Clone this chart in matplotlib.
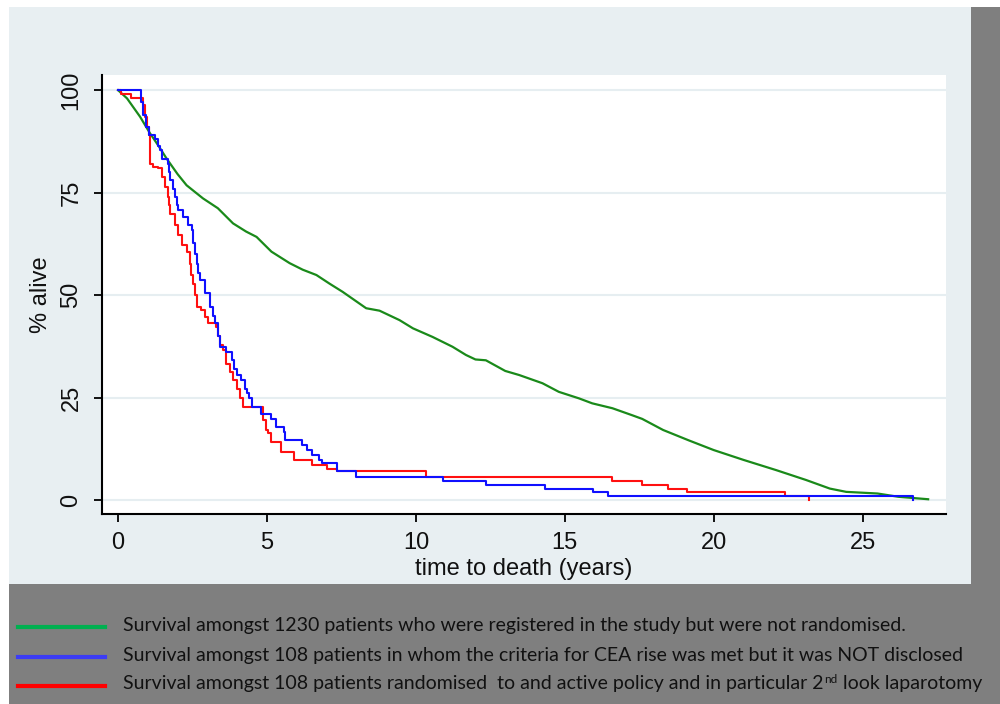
import matplotlib
matplotlib.use('Agg')
import matplotlib.pyplot as plt
from matplotlib.patches import Rectangle
from matplotlib.lines import Line2D

plt.rcParams['font.family'] = ['Liberation Sans', 'DejaVu Sans']

# Kaplan-Meier curves (time in years, % alive)
green_t = [0, 0.3, 0.74, 1.07, 1.35, 1.63, 2.0, 2.3, 2.85, 3.35, 3.86, 4.3, 4.65, 5.15,
           5.76, 6.2, 6.66, 7.1, 7.54, 8.33, 8.78, 9.45, 9.9, 10.56, 11.23, 11.68, 12.0,
           12.35, 13.0, 13.47, 14.25, 14.8, 15.48, 15.92, 16.6, 17.26, 17.6, 18.3, 19.15,
           20.0, 21.0, 22.1, 23.1, 23.9, 24.45, 25.5, 26.2, 27.2]
green_s = [100, 98, 93.5, 89.5, 86.5, 83.3, 79.5, 76.8, 73.6, 71.2, 67.5, 65.5, 64.2, 60.6,
           57.8, 56.2, 54.9, 52.8, 50.8, 46.8, 46.2, 43.9, 41.9, 39.8, 37.4, 35.4, 34.3,
           34.1, 31.5, 30.5, 28.5, 26.4, 24.8, 23.6, 22.4, 20.7, 19.8, 17.1, 14.6,
           12.2, 9.8, 7.3, 4.9, 2.8, 2.0, 1.6, 0.8, 0.2]

blue_t = [0, 0.78, 0.85, 0.95, 1.05, 1.24, 1.35, 1.41, 1.46, 1.69, 1.72, 1.74, 1.85, 1.91,
          1.97, 2.02, 2.19, 2.35, 2.47, 2.52, 2.58, 2.64, 2.7, 2.75, 2.91, 3.08, 3.18, 3.25,
          3.35, 3.42, 3.64, 3.81, 3.9, 3.98, 4.14, 4.25, 4.33, 4.4, 4.51, 4.81, 5.14, 5.31,
          5.57, 5.62, 6.16, 6.33, 6.5, 6.76, 6.85, 7.36, 8.0, 10.9, 12.35, 14.35, 15.95,
          16.45, 26.7]
blue_s = [100, 97, 94, 91, 89, 88, 86.5, 85.4, 83.3, 82.1, 80, 78, 76, 74,
          72, 70.7, 69.1, 67, 65.9, 62.6, 60, 57.7, 55.5, 53.7, 50.4, 47.2, 45, 43.1,
          40, 37.4, 36.2, 34.1, 32, 30.5, 29.3, 27.2, 26, 24.8, 22.6, 21.1, 19.7, 17.9,
          16.7, 14.6, 13.4, 12.2, 11.0, 9.8, 9.0, 7.0, 5.6, 4.7, 3.7, 2.8, 1.9,
          0.93, 0.0]

red_t = [0, 0.1, 0.45, 0.82, 0.9, 0.97, 1.05, 1.07, 1.18, 1.35, 1.46, 1.58, 1.69, 1.72,
         1.74, 1.91, 2.02, 2.13, 2.3, 2.41, 2.46, 2.52, 2.58, 2.64, 2.8, 2.91, 3.03, 3.3,
         3.36, 3.42, 3.53, 3.64, 3.75, 3.86, 3.98, 4.09, 4.2, 4.87, 4.98, 5.05, 5.14, 5.48,
         5.91, 6.5, 7.02, 7.36, 10.35, 16.6, 17.6, 18.45, 19.1, 22.4, 23.2]
red_s = [100, 99.1, 98.2, 96.3, 93.5, 91, 89, 82.1, 81.3, 80.9, 78.9, 76.4, 74, 72,
         69.9, 67, 64.6, 62.2, 60.6, 57.7, 55, 52.8, 50, 47.2, 46.3, 44.7, 43.1, 42.3,
         40, 37.8, 36.6, 33.3, 31.3, 29.3, 27.2, 24.8, 22.6, 19.5, 17, 16.3, 14.2, 11.8,
         9.8, 8.5, 7.7, 7.0, 5.6, 4.7, 3.7, 2.8, 1.9, 0.93, 0.0]

yticks = [0, 25, 50, 75, 100]
xticks = [0, 5, 10, 15, 20, 25]

legend_labels = [
    'Survival amongst 1230 patients who were registered in the study but were not randomised.',
    'Survival amongst 108 patients in whom the criteria for CEA rise was met but it was NOT disclosed',
    'Survival amongst 108 patients randomised  to and active policy and in particular 2',
]
legend_colors = ['#00b050', '#3c3cf5', '#ff0000']

W, H = 1000, 704
fig = plt.figure(figsize=(10, 7.04), dpi=100)
fig.patch.set_facecolor('white')


def px_rect(x0, y0, x1, y1, color):
    fig.patches.append(Rectangle((x0 / W, 1 - y1 / H), (x1 - x0) / W, (y1 - y0) / H,
                                 transform=fig.transFigure, facecolor=color,
                                 edgecolor='none', zorder=-5))


# background panels
px_rect(9, 7, 971, 584, '#e8eff2')
px_rect(971, 7, 1000, 584, '#7f7f7f')
px_rect(9, 584, 1000, 704, '#7f7f7f')

ax = fig.add_axes([102 / W, 1 - 514 / H, 844 / W, 439 / H])
ax.set_zorder(3)
ax.set_facecolor('white')

ax.plot(green_t, green_s, color='#1a8a1a', lw=1.6)
ax.step(red_t, red_s, where='post', color='#ff1010', lw=1.5)
ax.step(blue_t, blue_s, where='post', color='#1010ff', lw=1.5)

ax.set_xlim(-0.54, 27.8)
ax.set_ylim(-3.4, 103.7)
ax.set_xticks(xticks)
ax.set_yticks(yticks)
for side in ['top', 'right']:
    ax.spines[side].set_visible(False)
for side in ['left', 'bottom']:
    ax.spines[side].set_linewidth(1.5)
ax.yaxis.grid(True, color='#e6eef1', lw=1.5)
ax.set_axisbelow(True)
ax.tick_params(axis='both', length=6, width=1.3, labelsize=17, pad=7,
               labelcolor='#111111')
ax.tick_params(axis='y', labelrotation=90, pad=8)
for lab in ax.get_yticklabels():
    lab.set_va('center')
ax.set_xlabel('time to death (years)', fontsize=17, labelpad=3, color='#111111')
ax.set_ylabel('% alive', fontsize=17, color='#111111')
ax.yaxis.set_label_coords(-50 / 844, 0.5)

# legend drawn into the grey band
fig.canvas.draw()
renderer = fig.canvas.get_renderer()
leg_font = ['Lato', 'DejaVu Sans']
probe = fig.text(0, 0, legend_labels[1], fontsize=10, family=leg_font)
w10 = probe.get_window_extent(renderer).width
probe.remove()
fs = 10 * 840 / w10

ys = [627, 657, 686]
for lab, col, y in zip(legend_labels, legend_colors, ys):
    fig.add_artist(Line2D([18 / W, 105 / W], [1 - y / H, 1 - y / H],
                          transform=fig.transFigure, color=col, lw=3))
    t = fig.text(123 / W, 1 - (y - 2) / H, lab, fontsize=fs, family=leg_font,
                 color='#111111', va='center', ha='left')

# superscript "nd" and the rest of the third line
bb = t.get_window_extent(renderer)
sup = fig.text((bb.x1 + 1) / W, bb.y0 / H + 0.45 * bb.height / H, 'nd',
               fontsize=fs * 0.6, family=leg_font, color='#111111', va='bottom')
bb2 = sup.get_window_extent(renderer)
fig.text(bb2.x1 / W, 1 - (ys[2] - 2) / H, ' look laparotomy', fontsize=fs,
         family=leg_font, color='#111111', va='center', ha='left')

fig.savefig('out.png', dpi=100)
